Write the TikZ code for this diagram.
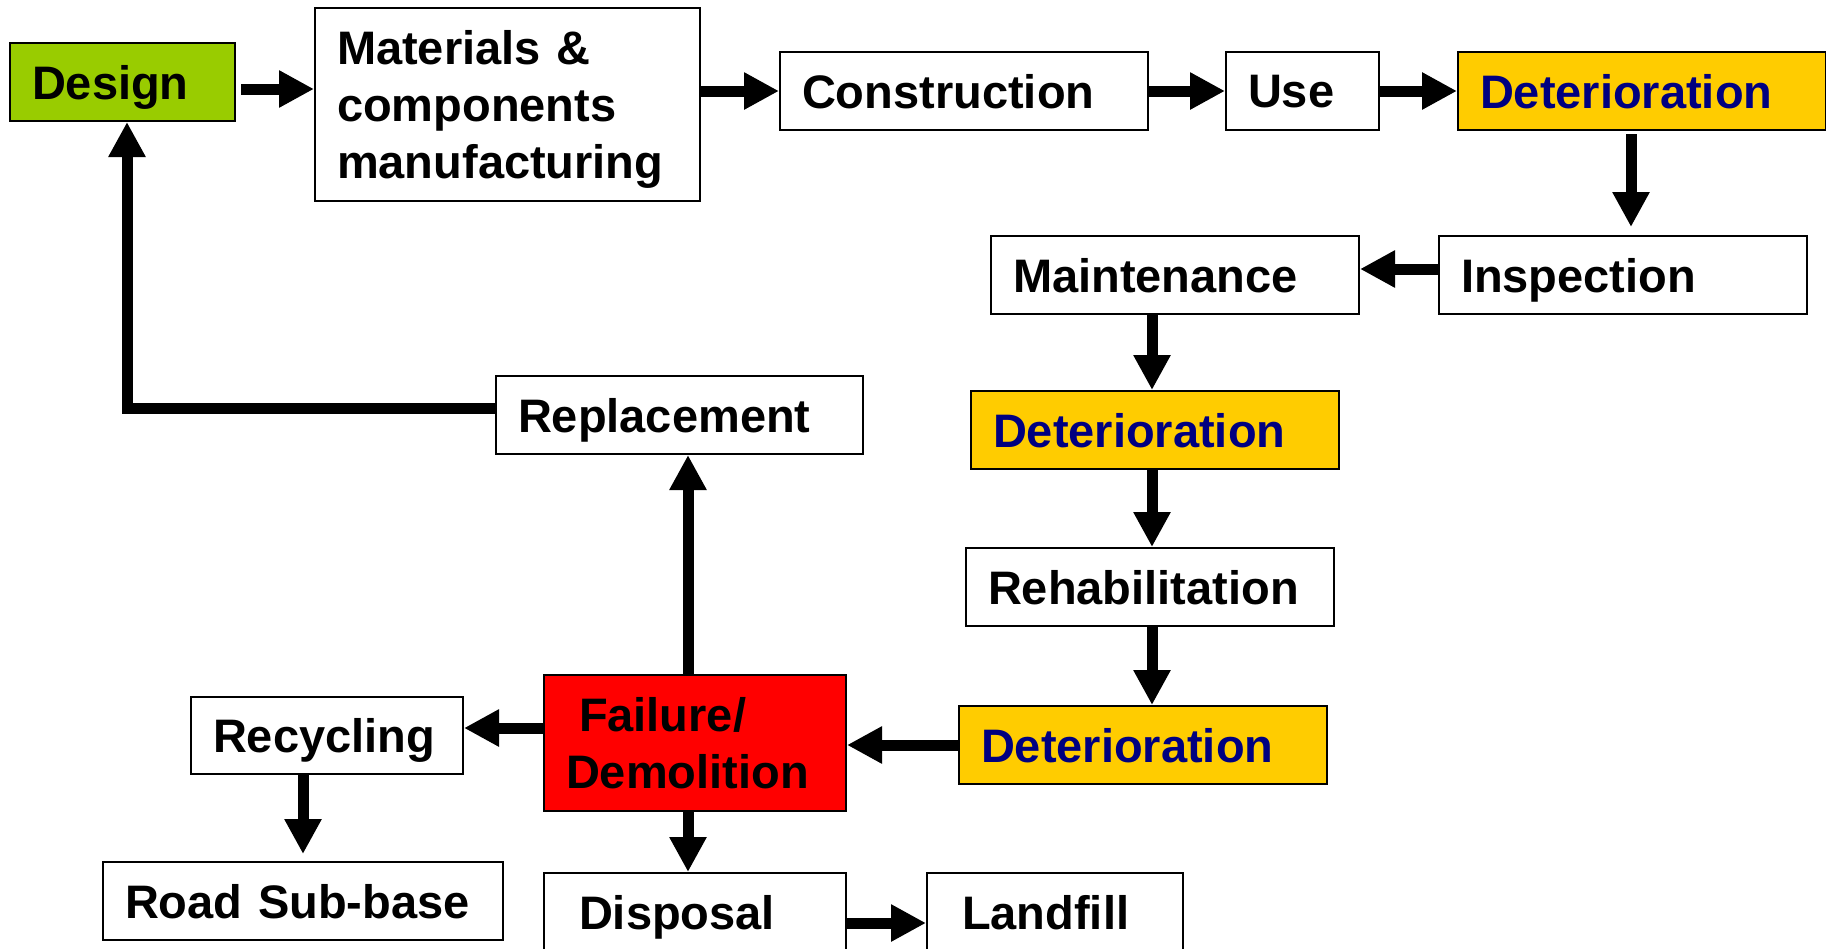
\documentclass[tikz,border=0pt]{standalone}
\usepackage{fontspec}
\setmainfont{Liberation Sans}
\usetikzlibrary{arrows.meta,calc}
\definecolor{dgreen}{HTML}{99CC00}
\definecolor{dyellow}{HTML}{FFCC00}
\definecolor{dred}{HTML}{FF0000}
\definecolor{dnavy}{HTML}{000080}
\begin{document}
\begin{tikzpicture}[x=1pt,y=-1pt,
  bx/.style={draw=black, line width=2pt, anchor=north west, inner xsep=22pt, inner ysep=0pt,
    align=left, text depth=0pt, minimum height=78pt, fill=white,
    font=\bfseries\fontsize{47}{57}\selectfont},
  det/.style={bx, fill=dyellow, text=dnavy, text width=324pt},
  arr/.style={line width=11pt, -{Triangle[length=35pt,width=35pt]}},
  ]
\useasboundingbox (0,0) rectangle (1826,948);
\clip (0,0) rectangle (1826,948);
\fill[white] (0,0) rectangle (1826,948);
% nodes
\node[bx, fill=dgreen, text width=181pt] (design) at (9,42) {Design};
\node[bx, text width=341pt, minimum height=193pt, text depth=114pt] (mat) at (314,7) {Materials \&\\components\\manufacturing};
\node[bx, text width=324pt] (cons) at (779,51) {Construction};
\node[bx, text width=109pt] (use) at (1225,51) {Use};
\node[det] (det1) at (1457,51) {Deterioration};
\node[bx, text width=324pt] (insp) at (1438,235) {Inspection};
\node[bx, text width=324pt] (maint) at (990,235) {Maintenance};
\node[det] (det2) at (970,390) {Deterioration};
\node[bx, text width=324pt] (rehab) at (965,547) {Rehabilitation};
\node[det] (det3) at (958,705) {Deterioration};
\node[bx, fill=dred, text width=258pt, minimum height=136pt, text depth=57pt] (fail) at (543,674) {\hspace*{13pt}Failure/\\Demolition};
\node[bx, text width=323pt] (repl) at (495,375) {Replacement};
\node[bx, text width=228pt, minimum height=77pt] (recy) at (190,696) {Recycling};
\node[bx, text width=356pt] (road) at (102,861) {Road Sub-base};
\node[bx, inner xsep=35pt, text width=232pt] (disp) at (543,872) {Disposal};
\node[bx, inner xsep=35pt, text width=186pt] (land) at (926,872) {Landfill};
% connectors
\draw[arr] ($(design.east)+(5,7)$) -- ($(design.east -| mat.west)+(0,7)$);
\draw[arr] (mat.east |- cons.west) -- (cons.west);
\draw[arr] (cons.east) -- (use.west);
\draw[arr] (use.east) -- (det1.west);
\draw[arr] ($(det1.south)+(-11,3)$) -- ($(det1.south |- insp.north)+(-11,-8)$);
\draw[arr] ($(insp.west)+(0,-6)$) -- ($(insp.west -| maint.east)+(0,-6)$);
\draw[arr] ($(maint.south)+(-23,0)$) -- ($(maint.south |- det2.north)+(-23,0)$);
\draw[arr] ($(det2.south)+(-3,0)$) -- ($(det2.south |- rehab.north)+(-3,0)$);
\draw[arr] ($(rehab.south)+(2,0)$) -- ($(rehab.south |- det3.north)+(2,0)$);
\draw[arr] (det3.west) -- (det3.west -| fail.east);
\draw[arr] ($(fail.north)+(-7,0)$) -- ($(fail.north |- repl.south)+(-7,0)$);
\draw[arr] ($(fail.west)+(0,-15)$) -- ($(fail.west -| recy.east)+(0,-15)$);
\draw[arr] (recy.south -| road.north) -- ($(road.north)+(0,-7)$);
\draw[arr] ($(fail.south)+(-7,0)$) -- ($(fail.south |- disp.north)+(-7,0)$);
\draw[arr] ($(disp.east)+(0,11)$) -- ($(disp.east -| land.west)+(0,11)$);
\draw[arr] ($(repl.west)+(0,-7)$) -| ($(design.south)+(4.5,0)$);
\end{tikzpicture}
\end{document}
